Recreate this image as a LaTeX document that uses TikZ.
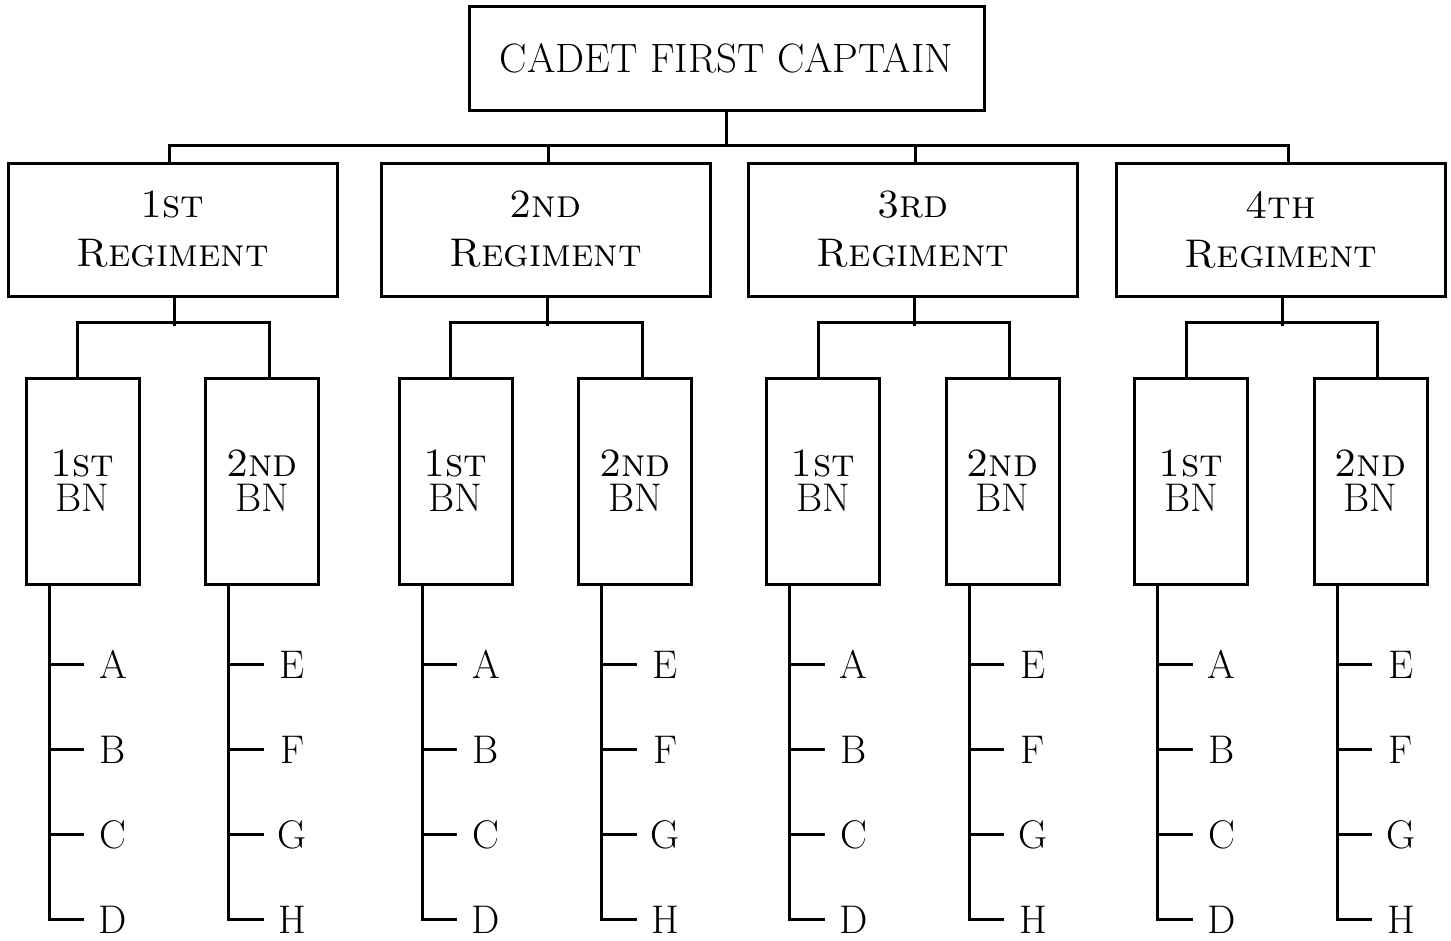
\documentclass[tikz,border=0pt]{standalone}
\begin{document}
\begin{tikzpicture}[x=1pt,y=-1pt,line width=3pt,
  topbox/.style={draw,rectangle,minimum width=515pt,minimum height=104pt,inner sep=0pt,font=\fontsize{41}{49}\selectfont},
  regbox/.style={draw,rectangle,minimum width=329pt,minimum height=133pt,inner sep=0pt,align=center,font=\fontsize{40}{49}\selectfont\scshape},
  bnbox/.style={draw,rectangle,minimum width=113pt,minimum height=206pt,inner sep=0pt,align=center,font=\fontsize{40}{35}\selectfont},
  coy/.style={anchor=base,inner sep=0pt,font=\fontsize{40}{40}\selectfont}]
\useasboundingbox (0,0) rectangle (1451,940);
\node[topbox] (top) at (726.5,58) {CADET FIRST CAPTAIN};
\foreach \i/\t/\x in {1/1st/172.5, 2/2nd/545.5, 3/3rd/913, 4/4th/1281} {
  \node[regbox] (r\i) at (\x,229.5) {\t\\Regiment};
  \node[bnbox] (b\i1) at (\x-90,481) {\textsc{1st}\\BN};
  \node[bnbox] (b\i2) at (\x+89.5,481) {\textsc{2nd}\\BN};
  \draw ([xshift=1.5pt]r\i.south) -- ++(0,28);
  \draw ([xshift=-5pt]b\i1.north) -- ++(0,-54) -| ([xshift=7pt]b\i2.north);
}
\coordinate (bus) at (726.5,145);
\draw (top.south) -- (bus);
\draw ([xshift=-3.5pt]r1.north) |- (bus) -| ([xshift=7pt]r4.north);
\draw ([xshift=2.5pt]r2.north) -- ++(0,-18);
\draw ([xshift=2pt]r3.north) -- ++(0,-18);
\foreach \i in {1,2,3,4} {
  \foreach \j in {1,2} {
    \coordinate (s\i\j) at ([xshift=-33.5pt]b\i\j.south);
    \draw (s\i\j) |- ++(35,334);
    \foreach \dy in {79,164,249} \draw (s\i\j) ++(0,\dy) -- ++(35,0);
  }
  \foreach \k [count=\n] in {A,B,C,D}
    \node[coy] (c\i1\n) at ([shift={(64,8+85*\n)}]s\i1) {\k};
  \foreach \k [count=\n] in {E,F,G,H}
    \node[coy] (c\i2\n) at ([shift={(64,8+85*\n)}]s\i2) {\k};
}
\end{tikzpicture}
\end{document}
